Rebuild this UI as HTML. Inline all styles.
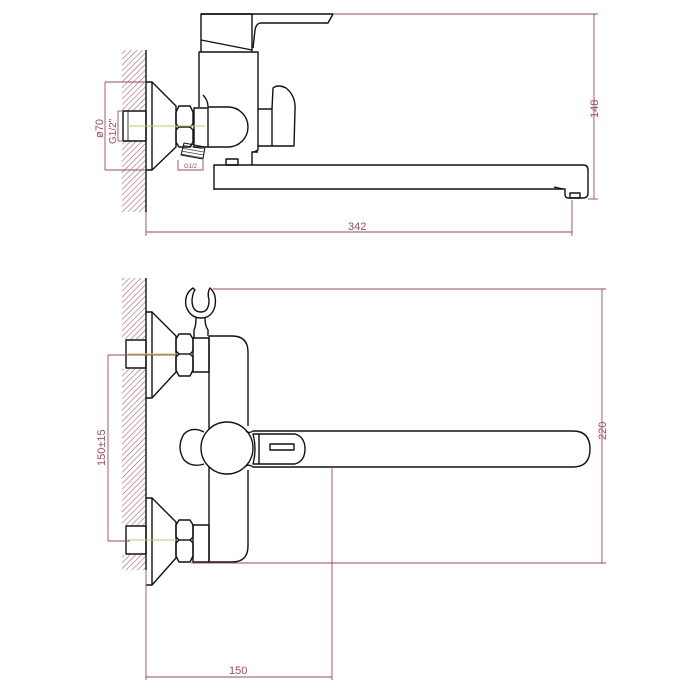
<!DOCTYPE html>
<html><head><meta charset="utf-8"><style>
html,body{margin:0;padding:0;background:#fff;width:700px;height:700px;overflow:hidden}
svg{display:block}
text{font-family:"Liberation Sans",sans-serif;fill:#a04a58}
</style></head><body>
<svg width="700" height="700" viewBox="0 0 700 700" xmlns="http://www.w3.org/2000/svg">
<defs>
<pattern id="h" width="4" height="4" patternUnits="userSpaceOnUse" patternTransform="rotate(45)">
<line x1="0" y1="0" x2="0" y2="4" stroke="#a05868" stroke-width="1.1"/>
</pattern>
<pattern id="t" width="3" height="3" patternUnits="userSpaceOnUse" patternTransform="rotate(100)">
<line x1="0" y1="0" x2="0" y2="3" stroke="#111" stroke-width="1.2"/>
</pattern>
</defs>
<g fill="none" stroke="#111" stroke-width="1.4" stroke-linejoin="round">
<!-- ===== TOP VIEW ===== -->
<rect x="122" y="50" width="24" height="162" fill="url(#h)" stroke="none"/>
<rect x="121" y="110" width="25" height="31" fill="#fff" stroke="none"/>
<line x1="146" y1="50" x2="146" y2="212"/>
<rect x="123" y="111" width="23" height="30"/>
<line x1="128" y1="111" x2="128" y2="141" stroke-width="0.8"/>
<path d="M146 82 H152 L176 106 V147 L152 170 H146"/>
<line x1="152" y1="82" x2="152" y2="170"/>
<path d="M179 106 H190 L193 112 V124 L190 127 L193 130 V142 L190 147 H179 L176 142 V130 L179 127 L176 124 V112 Z"/>
<line x1="179" y1="127" x2="190" y2="127"/>
<rect x="194" y="108" width="14" height="39"/>
<line x1="128" y1="126" x2="205" y2="126" stroke="#c8c860" stroke-width="1"/>
<path d="M208 107 H228 A20 20 0 0 1 228 147 H208"/>
<path d="M203 95 Q208 100 208 107"/>
<!-- body -->
<path d="M199 107 V52 H258 V109"/>
<path d="M258 145 V150 L254 152"/>
<path d="M201 52 V14 H252"/>
<path d="M201 40 L252 50"/>
<path d="M252 14 V52"/>
<path d="M201 14 H333 L328 23 H260 Q256 24 255 30 L253 48"/>
<!-- right knob -->
<rect x="258" y="109" width="14" height="37"/>
<path d="M272 109 L273 88 Q278 84 286 88 Q296 96 295 110 L294 146 H272"/>
<!-- small outlet -->
<path d="M181 155 L184 143 L205 147 L203 159 Z" fill="url(#t)" stroke-width="1"/>
<!-- spout -->
<path d="M214 190 V165 H252 V152 H258"/>
<rect x="226" y="159" width="12" height="6"/>
<path d="M252 165 H583 Q588 165 588 170 V193 Q588 198 583 198 H568 Q565 198 565 194 V189 H214"/>
<rect x="570" y="193" width="10" height="5"/>
<path d="M554 187 L563 189"/>
</g>
<!-- top dims -->
<g stroke="#a04a58" stroke-width="0.9" fill="none">
<line x1="146" y1="212" x2="146" y2="236"/>
<line x1="146" y1="232" x2="572" y2="232"/>
<line x1="572" y1="200" x2="572" y2="236"/>
<line x1="333" y1="14" x2="598" y2="14"/>
<line x1="588" y1="199" x2="598" y2="199"/>
<line x1="594" y1="14" x2="594" y2="199"/>
<line x1="105" y1="82" x2="146" y2="82"/>
<line x1="105" y1="170" x2="146" y2="170"/>
<line x1="105" y1="82" x2="105" y2="170"/>
<line x1="118" y1="111" x2="123" y2="111"/>
<line x1="118" y1="141" x2="123" y2="141"/>
<line x1="118" y1="111" x2="118" y2="141"/>
<path d="M178 160 L178 170 L203 170 L203 160"/>
</g>
<text x="348" y="230" font-size="11">342</text>
<text font-size="11" transform="translate(598,118) rotate(-90)">148</text>
<text font-size="11" transform="translate(103,138) rotate(-90)">ø70</text>
<text font-size="10" transform="translate(116,144) rotate(-90)">G1/2"</text>
<text x="184" y="168" font-size="6">G1/2</text>

<!-- ===== BOTTOM VIEW ===== -->
<g fill="none" stroke="#111" stroke-width="1.4" stroke-linejoin="round">
<rect x="122" y="278" width="24" height="292" fill="url(#h)" stroke="none"/>
<rect x="121" y="339" width="25" height="30" fill="#fff" stroke="none"/>
<rect x="121" y="525" width="25" height="30" fill="#fff" stroke="none"/>
<line x1="146" y1="278" x2="146" y2="570"/>
<rect x="126" y="340" width="20" height="28"/>
<rect x="126" y="526" width="20" height="28"/>
<!-- upper escutcheon -->
<path d="M146 312 H152 L176 336 V372 L152 398 H146"/>
<line x1="152" y1="312" x2="152" y2="398"/>
<path d="M179 334 H190 L193 339 V351 L190 354 L193 357 V370 L190 376 H179 L176 370 V357 L179 354 L176 351 V339 Z"/>
<line x1="179" y1="354" x2="190" y2="354"/>
<rect x="193" y="338" width="16" height="34"/>
<!-- lower escutcheon -->
<path d="M146 498 H152 L176 522 V558 L152 585 H146"/>
<line x1="152" y1="498" x2="152" y2="585"/>
<path d="M179 520 H190 L193 525 V537 L190 540 L193 543 V556 L190 562 H179 L176 556 V543 L179 540 L176 537 V525 Z"/>
<line x1="179" y1="540" x2="190" y2="540"/>
<rect x="193" y="525" width="16" height="37"/>
<!-- body plate -->
<path d="M209 336 H232 Q248 336 248 352 V426"/>
<path d="M248 470 V546 Q248 562 232 562 H209"/>
<path d="M209 336 V430"/>
<path d="M209 466 V562"/>
<line x1="128" y1="354" x2="176" y2="354" stroke="#c8c860" stroke-width="1"/>
<line x1="128" y1="540" x2="176" y2="540" stroke="#c8c860" stroke-width="1"/>
<!-- shower holder -->
<path d="M193 288 Q184 294 186 306 Q190 318 201 318 Q212 318 215 306 Q217 294 210 288 Q207 292 209 300 Q209 312 201 312 Q192 312 192 300 Q193 292 195 290 Z"/>
<path d="M196 318 Q196 326 194 330 V338 M205 318 Q205 326 208 330 V336"/>
<!-- lever -->
<path d="M204 432 Q192 426 184 434 Q176 447 184 460 Q192 468 204 464"/>
<circle cx="227" cy="448" r="26"/>
<path d="M246 431 Q249 434 253 431 H573 Q590 431 590 449 Q590 467 573 467 H253 Q249 464 246 466"/>
<path d="M253 434 H295 Q305 437 305 449 Q305 461 295 464 H253 Q257 449 253 434 Z"/>
<line x1="259" y1="434" x2="259" y2="464"/>
<rect x="270" y="444" width="24" height="6"/>
</g>
<g stroke="#a04a58" stroke-width="0.9" fill="none">
<line x1="213" y1="289" x2="606" y2="289"/>
<line x1="191" y1="563" x2="606" y2="563"/>
<line x1="602" y1="289" x2="602" y2="563"/>
<line x1="108" y1="355" x2="176" y2="355"/>
<line x1="108" y1="541" x2="130" y2="541"/>
<line x1="108" y1="355" x2="108" y2="541"/>
<line x1="146" y1="570" x2="146" y2="680"/>
<line x1="332" y1="467" x2="332" y2="680"/>
<line x1="146" y1="677" x2="332" y2="677"/>
</g>
<text font-size="11" transform="translate(606,440) rotate(-90)">220</text>
<text font-size="11" transform="translate(105,466) rotate(-90)">150±15</text>
<text x="229" y="674" font-size="11">150</text>
</svg>
</body></html>
